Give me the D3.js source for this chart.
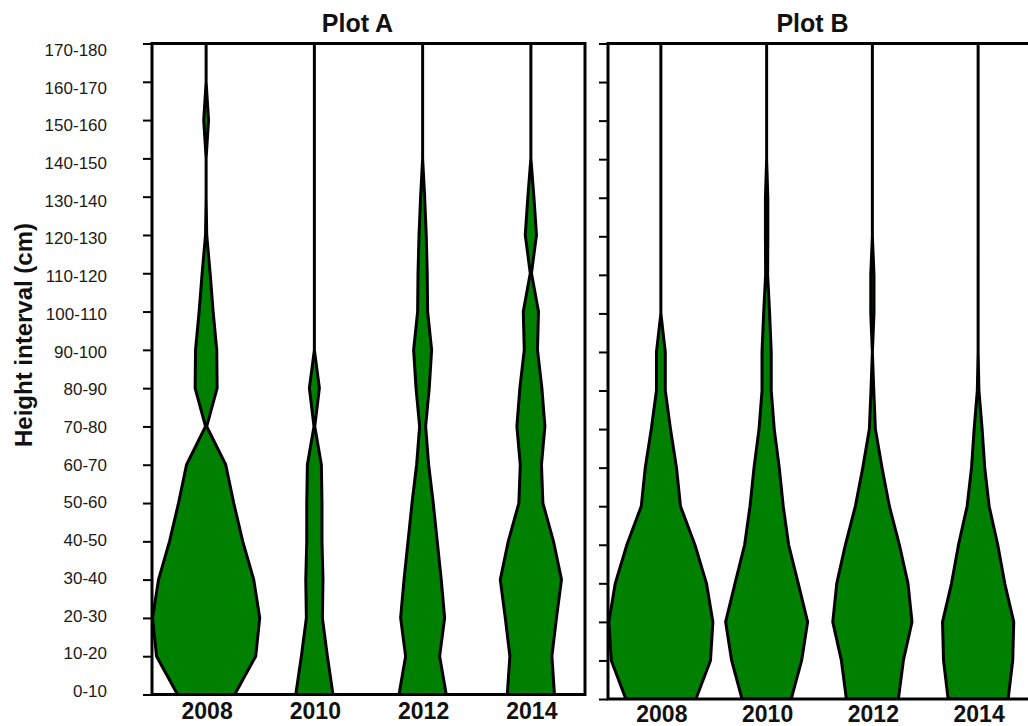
<!DOCTYPE html>
<html>
<head>
<meta charset="utf-8">
<script src="https://cdnjs.cloudflare.com/ajax/libs/d3/7.8.5/d3.min.js"></script>
<style>
body { margin: 0; background: #fff; }
svg { display: block; font-family: Arial, "Liberation Sans", sans-serif; }
</style>
</head>
<body>
<svg width="1028" height="726"></svg>
<script>
var intervals = ["0-10", "10-20", "20-30", "30-40", "40-50", "50-60", "60-70", "70-80", "80-90",
    "90-100", "100-110", "110-120", "120-130", "130-140", "140-150", "150-160", "160-170", "170-180"];
var years = ["2008", "2010", "2012", "2014"];

// violin half widths per height class (bottom to top)
var a2008 = [14.3, 24.8, 26.8, 23.8, 18.3, 13.8, 9.8, 0.3, 5.5, 5.3, 3.5, 2, 0.3, 0, 0, 1.2, 0, 0];
var a2010 = [9.3, 6.5, 4, 4.3, 3.8, 3.8, 3.5, 0.2, 2.5, 0, 0, 0, 0, 0, 0, 0, 0, 0];
var a2012 = [11.8, 8.5, 11, 9.3, 7.3, 5.3, 3, 1.5, 3.3, 4.5, 2.5, 2.3, 1.8, 1, 0, 0, 0, 0];
var a2014 = [11.8, 10.5, 12.8, 15.3, 11.3, 6, 5.3, 7, 5.5, 3.3, 3.8, 0.3, 2.8, 1.5, 0, 0, 0, 0];

var b2008 = [17.5, 24.8, 26, 22.8, 17, 9.8, 7.8, 4.8, 2.2, 2.2, 0, 0, 0, 0, 0, 0, 0, 0];
var b2010 = [12.3, 17.5, 20.5, 15.8, 11, 8.3, 6.3, 3.8, 2.3, 2.3, 1.5, 0.5, 0.6, 0.6, 0, 0, 0, 0];
var b2012 = [13, 15.5, 19.8, 17.8, 13.5, 8.5, 4.8, 1.5, 0.7, 0, 0.8, 0.8, 0, 0, 0, 0, 0, 0];
var b2014 = [15, 17.3, 17.8, 13.3, 9.8, 5.5, 3.3, 2, 0.4, 0, 0, 0, 0, 0, 0, 0, 0, 0];

var panels = [
    {id: "A", title: "Plot A", left: 152, right: 585, top: 43.5, bottom: 694.5, titleX: 357.5, yearY: 718.5,
        labels: true, series: [a2008, a2010, a2012, a2014]},
    {id: "B", title: "Plot B", left: 608, right: 1031, top: 43.5, bottom: 699, titleX: 812.5, yearY: 721.5,
        labels: false, series: [b2008, b2010, b2012, b2014]}
];

var svg = d3.select("svg");
svg.append("rect").attr("width", 1028).attr("height", 726).attr("fill", "#fff");

var width = d3.scaleLinear().domain([0, 30]).range([0, 60]);

panels.forEach(function(p) { drawPanel(p); });
addYLabel();

function drawPanel(p) {
    var x = d3.scaleBand().domain(years).range([p.left, p.right]);
    var y = d3.scalePoint().domain(intervals).range([p.bottom, p.top]);

    svg.append("clipPath").attr("id", "clip" + p.id)
        .append("rect")
        .attr("x", p.left).attr("y", p.top)
        .attr("width", p.right - p.left).attr("height", p.bottom - p.top);

    var g = svg.append("g").attr("clip-path", "url(#clip" + p.id + ")");

    years.forEach(function(yr, k) {
        var cx = x(yr) + x.bandwidth() / 2;
        var area = d3.area()
            .curve(d3.curveLinear)
            .y(function(d, i) { return y(intervals[i]); })
            .x0(function(d) { return cx - width(d); })
            .x1(function(d) { return cx + width(d); });
        g.append("path")
            .datum(p.series[k])
            .attr("d", area)
            .attr("fill", "#008000")
            .attr("stroke", "#000")
            .attr("stroke-width", 3)
            .attr("stroke-linejoin", "round");
    });

    // frame
    svg.append("rect")
        .attr("x", p.left).attr("y", p.top)
        .attr("width", p.right - p.left).attr("height", p.bottom - p.top)
        .attr("fill", "none").attr("stroke", "#000").attr("stroke-width", 3);

    var axis = svg.append("g")
        .attr("transform", "translate(" + p.left + ",0)")
        .call(d3.axisLeft(y).tickSize(9).tickFormat(""));
    axis.select(".domain").remove();
    axis.selectAll(".tick line").attr("stroke", "#000").attr("stroke-width", 2);

    if (p.labels) {
        // labels sit a little off the ticks in the original
        var yLab = d3.scalePoint().domain(intervals).range([691, 50]);
        svg.selectAll("text.ylab").data(intervals).enter().append("text")
            .attr("class", "ylab")
            .attr("x", 107)
            .attr("y", function(d) { return yLab(d); })
            .attr("dy", "0.35em")
            .attr("text-anchor", "end")
            .style("font-size", "17px")
            .attr("fill", "#1a1a1a")
            .text(function(d) { return d; });
    }

    svg.selectAll("text.year" + p.id).data(years).enter().append("text")
        .attr("class", "year" + p.id)
        .attr("x", function(d) { return x(d) + x.bandwidth() / 2 + 1; })
        .attr("y", p.yearY)
        .attr("text-anchor", "middle")
        .style("font-size", "23px")
        .style("font-weight", "bold")
        .attr("fill", "#111")
        .text(function(d) { return d; });

    svg.append("text")
        .attr("x", p.titleX)
        .attr("y", 31.5)
        .attr("text-anchor", "middle")
        .style("font-size", "25px")
        .style("font-weight", "bold")
        .attr("fill", "#111")
        .text(p.title);
}

function addYLabel() {
    svg.append("text")
        .attr("transform", "translate(32,335) rotate(-90)")
        .attr("text-anchor", "middle")
        .style("font-size", "24px")
        .style("font-weight", "bold")
        .attr("fill", "#111")
        .text("Height interval (cm)");
}
</script>
</body>
</html>
